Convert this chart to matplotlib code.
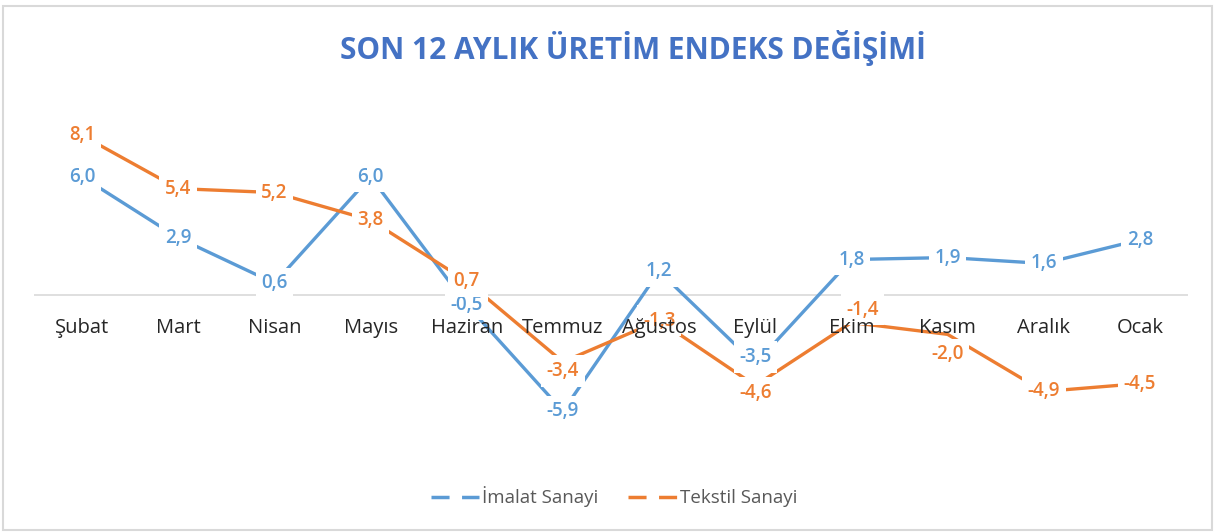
import matplotlib.pyplot as plt
from matplotlib.lines import Line2D
from matplotlib.patches import Rectangle

plt.rcParams['font.family'] = ['Open Sans', 'DejaVu Sans']

# Data
months = ['Şubat', 'Mart', 'Nisan', 'Mayıs', 'Haziran', 'Temmuz',
          'Ağustos', 'Eylül', 'Ekim', 'Kasım', 'Aralık', 'Ocak']
imalat = [6.0, 2.9, 0.6, 6.0, -0.5, -5.9, 1.2, -3.5, 1.8, 1.9, 1.6, 2.8]
tekstil = [8.1, 5.4, 5.2, 3.8, 0.7, -3.4, -1.3, -4.6, -1.4, -2.0, -4.9, -4.5]

blue = '#5B9BD5'
orange = '#ED7D31'

# a few labels were nudged off their points in the original (pixels, y down)
imalat_nudge = {7: (0, -7)}
tekstil_nudge = {5: (0, 9), 7: (0, 7), 8: (11, -13), 9: (0, 20)}

fig = plt.figure(figsize=(12.15, 5.32), dpi=100)
ax = fig.add_axes([34 / 1215, 1 - 460 / 532, 1154 / 1215, 360 / 532])

x = list(range(len(months)))
ax.plot(x, imalat, color=blue, lw=2.4, zorder=2)
ax.plot(x, tekstil, color=orange, lw=2.4, zorder=2)
ax.axhline(0, color='#d9d9d9', lw=1.2, zorder=1)

def fmt(v):
    return f'{v:.1f}'.replace('.', ',')

box = dict(facecolor='white', edgecolor='none', pad=4)

def label(series, color, nudge):
    for xi, v in zip(x, series):
        dx, dy = nudge.get(xi, (0, 0))
        ax.annotate(fmt(v), (xi, v), xytext=(dx * 0.72, -dy * 0.72),
                    textcoords='offset points', color=color, fontsize=13.5,
                    fontweight='semibold', ha='center', va='center',
                    bbox=box, zorder=3)

label(imalat, blue, imalat_nudge)
label(tekstil, orange, tekstil_nudge)

# category labels sit just below the zero line
for xi, m in zip(x, months):
    ax.annotate(m, (xi, 0), xytext=(0, -24), textcoords='offset points',
                ha='center', va='center', fontsize=14.5, color='#262626', zorder=4)

ax.set_xlim(-0.5, len(months) - 0.5)
ax.set_ylim(-8.38, 9.9)
ax.axis('off')

fig.text(633 / 1215, 1 - 48 / 532, 'SON 12 AYLIK ÜRETİM ENDEKS DEĞİŞİMİ',
         ha='center', va='center', fontsize=21.5, fontweight='bold',
         color='#4472C4')

handles = [Line2D([], [], color=blue, lw=2.5, dashes=(5.2, 3.6)),
           Line2D([], [], color=orange, lw=2.5, dashes=(5.2, 3.6))]
fig.legend(handles, ['İmalat Sanayi', 'Tekstil Sanayi'], loc='center',
           bbox_to_anchor=(614 / 1215, 1 - 497 / 532), ncol=2, frameon=False,
           fontsize=13.5, labelcolor='#595959', handlelength=2.6,
           columnspacing=1.6, handletextpad=0.15)

fig.patches.append(Rectangle((3 / 1215, 2 / 532), 1209 / 1215, 524 / 532,
                             transform=fig.transFigure, fill=False,
                             edgecolor='#d9d9d9', lw=1.5))

fig.savefig('out.png', dpi=100)
